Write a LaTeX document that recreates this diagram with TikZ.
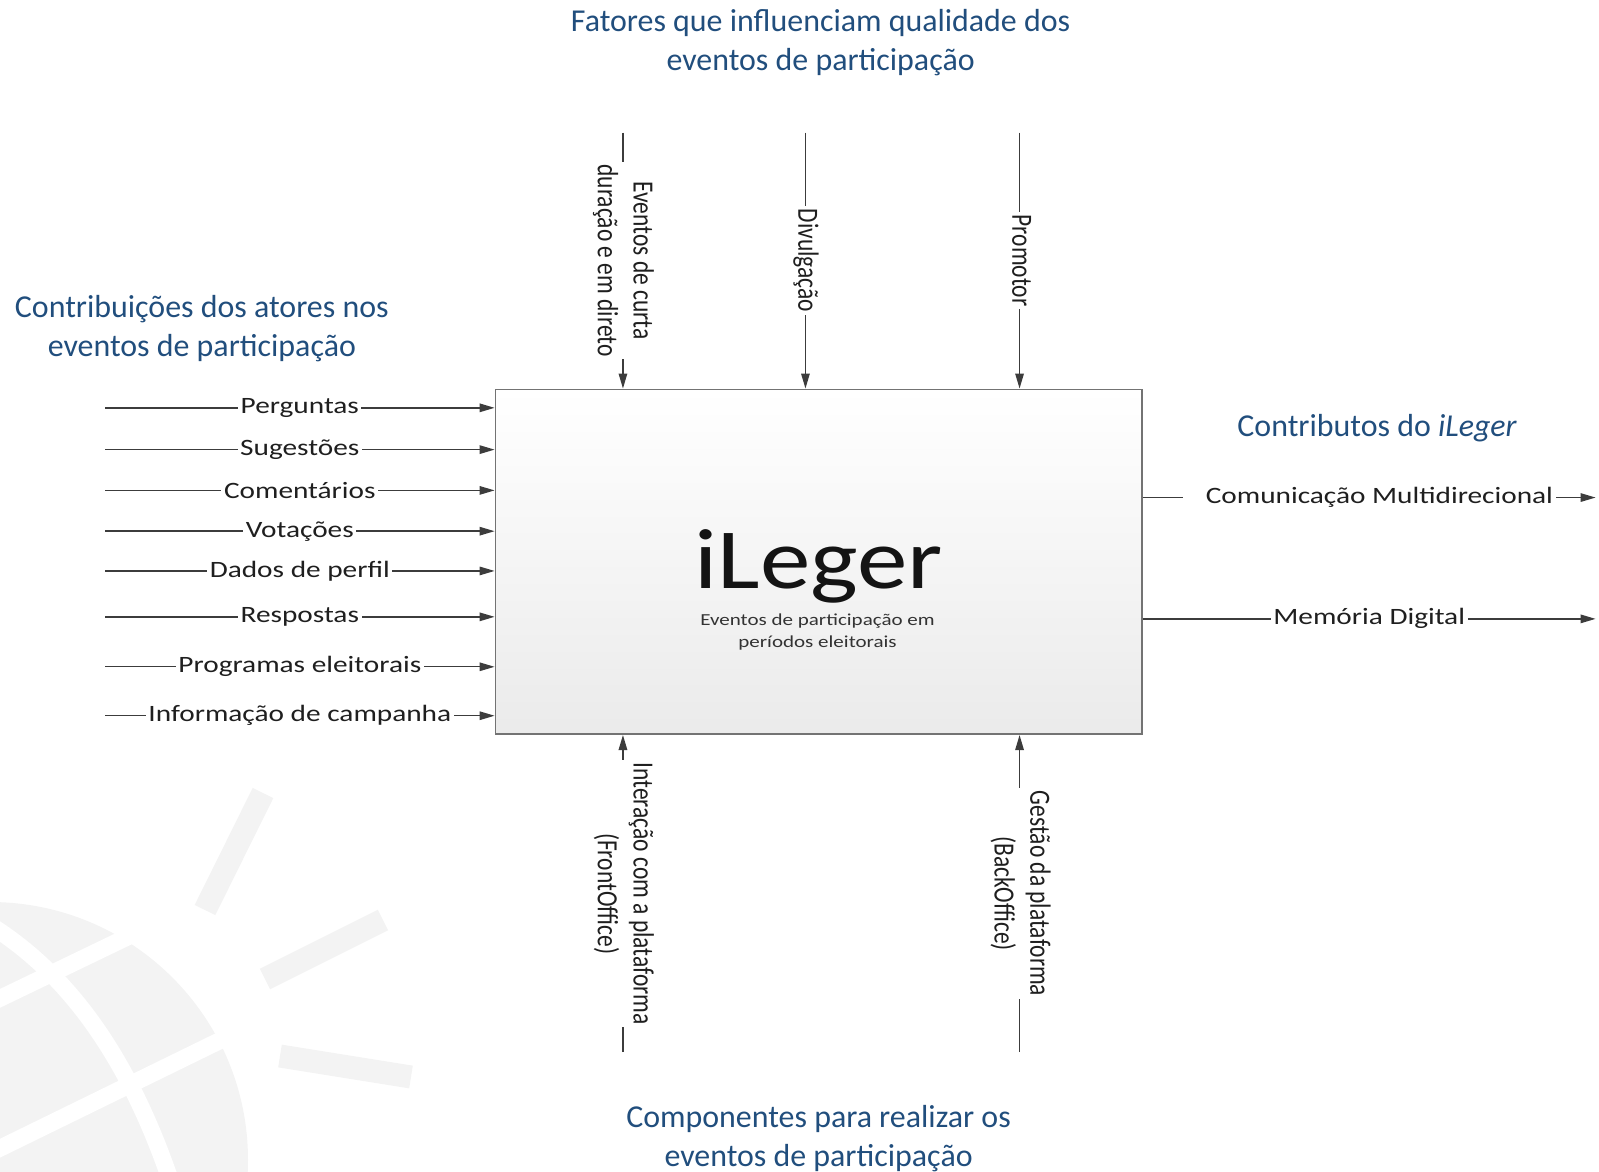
\documentclass[tikz,border=0pt]{standalone}
\usepackage{fontspec}
\setmainfont{Carlito}
\usetikzlibrary{arrows.meta}
\definecolor{hblue}{RGB}{33,78,125}
\definecolor{lgray}{RGB}{60,60,60}
\definecolor{wm}{RGB}{243,243,243}
\newcommand{\hstr}[1]{\scalebox{1.25}[1]{#1}}
\newcommand{\vstr}[1]{\scalebox{1.25}[1]{\rotatebox{-90}{\begin{tabular}{@{}c@{}}#1\end{tabular}}}}
\tikzset{
  conn/.style={draw=lgray, line width=1.4pt, -{Triangle[length=15pt,width=8.5pt]}},
  lbl/.style={fill=white, inner sep=2.5pt, text=black!88, font=\fontsize{23}{28}\selectfont},
  head/.style={text=hblue, font=\fontsize{31.3}{38}\selectfont, align=center},
  band/.style={draw=white, line width=17pt},
  ray/.style={draw=wm, line width=23pt}
}
\begin{document}
\begin{tikzpicture}[x=1pt,y=-1pt]
\useasboundingbox (0,0) rectangle (1599,1172);
% watermark
\begin{scope}
\clip (0,0) rectangle (1599,1172);
\fill[wm] (-10,1160) circle (258);
\draw[band] (-20,1008) -- (200,902);
\draw[band] (-20,1158) -- (260,1021);
\draw[band] (-10,925) .. controls (70,975) and (130,1060) .. (172,1185);
\draw[ray] (263,793) -- (205,910);
\draw[ray] (383,920) -- (265,979);
\draw[ray] (280,1056) -- (411,1077);
\end{scope}
\begin{scope}[scale=1.0194, every node/.append style={transform shape}]
% main box
\node[draw=black!55, line width=1.8pt, top color=white, bottom color=black!8,
      minimum width=634pt, minimum height=338pt, inner sep=0pt] (box) at (803,551) {};
\node[font=\fontsize{84}{90}\selectfont, text=black!92, anchor=base] (ttl) at (803,577) {\scalebox{1.18}[1]{iLeger}};
\node[font=\fontsize{16.5}{21}\selectfont, text=black!80] (sub) at (802,620)
  {\hstr{\begin{tabular}{@{}c@{}}Eventos de participação em\\períodos eleitorais\end{tabular}}};
% headings
\node[head] (h1) at (805,42) {Fatores que influenciam qualidade dos\\eventos de participação};
\node[head] (h2) at (198,322) {Contribuições dos atores nos\\eventos de participação};
\node[head] (h3) at (1351,420) {Contributos do \textit{iLeger}};
\node[head] (h4) at (803,1117) {Componentes para realizar os\\eventos de participação};
% left inputs
\coordinate (s1) at (103,400);
\coordinate (s2) at (103,441);
\coordinate (s3) at (103,481);
\coordinate (s4) at (103,521);
\coordinate (s5) at (103,560);
\coordinate (s6) at (103,605);
\coordinate (s7) at (103,654);
\coordinate (s8) at (103,702);
\draw[conn] (s1) -- node[lbl] (l1) {\hstr{Perguntas}} (s1 -| box.west);
\draw[conn] (s2) -- node[lbl] (l2) {\hstr{Sugestões}} (s2 -| box.west);
\draw[conn] (s3) -- node[lbl] (l3) {\hstr{Comentários}} (s3 -| box.west);
\draw[conn] (s4) -- node[lbl] (l4) {\hstr{Votações}} (s4 -| box.west);
\draw[conn] (s5) -- node[lbl] (l5) {\hstr{Dados de perfil}} (s5 -| box.west);
\draw[conn] (s6) -- node[lbl] (l6) {\hstr{Respostas}} (s6 -| box.west);
\draw[conn] (s7) -- node[lbl] (l7) {\hstr{Programas eleitorais}} (s7 -| box.west);
\draw[conn] (s8) -- node[lbl] (l8) {\hstr{Informação de campanha}} (s8 -| box.west);
% top controls
\coordinate (t1) at (611,130);
\coordinate (t2) at (790,130);
\coordinate (t3) at (1000,130);
\draw[conn] (t1) -- node[lbl] (c1) {\vstr{Eventos de curta\\duração e em direto}} (t1 |- box.north);
\draw[conn] (t2) -- node[lbl] (c2) {\vstr{Divulgação}} (t2 |- box.north);
\draw[conn] (t3) -- node[lbl] (c3) {\vstr{Promotor}} (t3 |- box.north);
% bottom mechanisms
\coordinate (b1) at (611,1032);
\coordinate (b2) at (1000,1032);
\draw[conn] (b1) -- node[lbl] (m1) {\vstr{Interação com a plataforma\\(FrontOffice)}} (b1 |- box.south);
\draw[conn] (b2) -- node[lbl] (m2) {\vstr{Gestão da plataforma\\(BackOffice)}} (b2 |- box.south);
% right outputs
\coordinate (r1) at (1565,488);
\coordinate (r2) at (1565,607);
\draw[conn] (r1 -| box.east) -- node[lbl] (o1) {\hstr{\hspace{16pt}Comunicação Multidirecional}} (r1);
\draw[conn] (r2 -| box.east) -- node[lbl] (o2) {\hstr{Memória Digital}} (r2);
\end{scope}
\end{tikzpicture}
\end{document}
